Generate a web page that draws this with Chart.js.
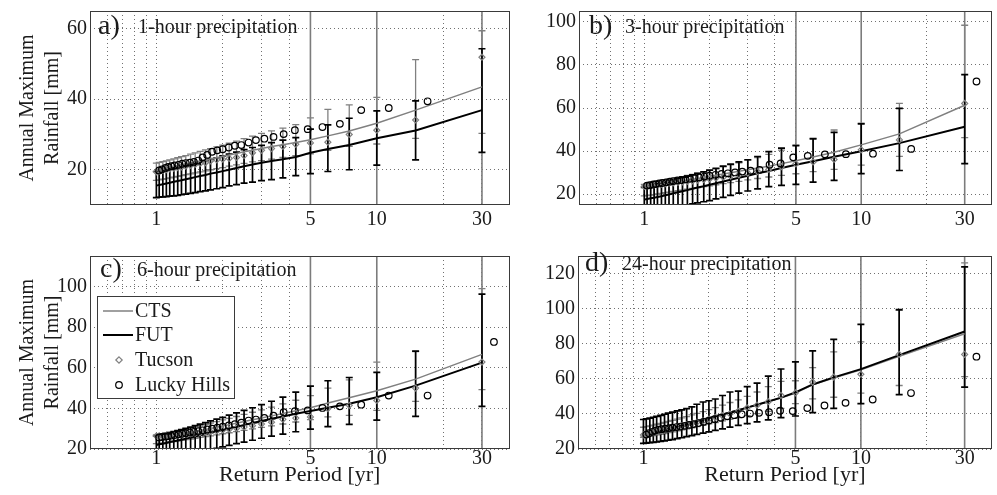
<!DOCTYPE html>
<html><head><meta charset="utf-8">
<script src="https://cdn.jsdelivr.net/npm/chart.js@4.4.0/dist/chart.umd.min.js"></script>
<style>
html,body{margin:0;padding:0;background:#fff;}
#wrap{position:relative;width:997px;height:495px;overflow:hidden;background:#fff;}
canvas{position:absolute;}
</style></head><body>
<div id="wrap">
<canvas id="ca" width="515" height="245" style="left:0;top:0;width:515px;height:245px"></canvas>
<canvas id="cb" width="482" height="245" style="left:515px;top:0;width:482px;height:245px"></canvas>
<canvas id="cc" width="515" height="250" style="left:0;top:245px;width:515px;height:250px"></canvas>
<canvas id="cd" width="482" height="250" style="left:515px;top:245px;width:482px;height:250px"></canvas>
</div>
<script>
// ---------- data ----------
const T_MODEL = [30, 15, 10, 7.5, 6, 5, 4.29, 3.75, 3.33, 3.0, 2.73, 2.5, 2.31, 2.14, 2.0, 1.88, 1.76, 1.67, 1.58, 1.5, 1.43, 1.36, 1.30, 1.25, 1.2, 1.15, 1.11, 1.07, 1.03, 1.0];
const T_LUCKY = [34, 17, 11.33, 8.5, 6.8, 5.67, 4.86, 4.25, 3.78, 3.4, 3.09, 2.83, 2.62, 2.43, 2.27, 2.13, 2.0, 1.89, 1.79, 1.7, 1.62, 1.55, 1.48, 1.42, 1.36, 1.31, 1.26, 1.21, 1.17, 1.13, 1.1, 1.06, 1.03];
const X_GRID = [0.6, 0.7, 0.8, 0.9, 1, 2, 3, 4, 5, 10, 20, 30];
const X_LABELS = [1, 5, 10, 30];
const X_REF = [5, 10, 30];
const Y_TICKS_A = [20, 40, 60];
const Y_TICKS_B = [20, 40, 60, 80, 100];
const Y_TICKS_C = [20, 40, 60, 80, 100];
const Y_TICKS_D = [20, 40, 60, 80, 100, 120];
const LEGEND_LABELS = ['CTS', 'FUT', 'Tucson', 'Lucky Hills'];

// panel a: 1-hour
const A_CTS = [43.5, 36.9, 33.2, 31.0, 29.6, 28.5, 27.7, 27.1, 26.6, 26.0, 25.5, 25.1, 24.6, 24.2, 23.8, 23.4, 23.1, 22.8, 22.5, 22.2, 21.9, 21.7, 21.4, 21.2, 21.0, 20.8, 20.6, 20.4, 20.2, 20.0];
const A_FUT = [36.9, 31.1, 28.9, 27.0, 25.9, 24.8, 23.6, 23.0, 22.5, 22.0, 21.5, 21.0, 20.5, 20.0, 19.6, 19.2, 18.9, 18.5, 18.2, 17.9, 17.6, 17.3, 17.0, 16.8, 16.6, 16.3, 16.1, 15.9, 15.7, 15.5];
const A_FUT_LO = [24.9, 22.8, 21.3, 20.0, 19.5, 18.9, 18.3, 17.7, 17.2, 16.9, 16.5, 16.2, 15.8, 15.4, 14.9, 14.6, 14.3, 14.0, 13.8, 13.5, 13.3, 13.1, 12.9, 12.7, 12.6, 12.5, 12.4, 12.3, 12.2, 12.1];
const A_FUT_HI = [54.3, 39.5, 36.7, 34.6, 32.7, 31.5, 29.1, 28.4, 27.7, 26.9, 26.3, 25.7, 25.0, 24.4, 23.9, 23.4, 23.0, 22.6, 22.2, 21.9, 21.5, 21.2, 20.9, 20.7, 20.5, 20.3, 20.1, 19.9, 19.7, 19.5];
const A_CTS_LO = [30.3, 28.9, 27.3, 26.6, 25.5, 24.5, 24.0, 23.5, 23.0, 22.6, 22.2, 21.8, 21.4, 21.0, 20.6, 20.3, 20.0, 19.7, 19.4, 19.1, 18.8, 18.6, 18.3, 18.1, 17.9, 17.7, 17.5, 17.3, 17.1, 17.0];
const A_CTS_HI = [59.4, 51.2, 40.5, 38.4, 37.1, 34.7, 32.8, 31.8, 31.0, 30.3, 29.5, 28.8, 28.1, 27.5, 27.0, 26.5, 26.0, 25.6, 25.2, 24.8, 24.4, 24.0, 23.7, 23.4, 23.1, 22.8, 22.5, 22.3, 22.1, 21.9];
const A_TUCSON = [51.9, 34.1, 31.2, 30.0, 27.8, 27.6, 27.2, 26.6, 26.0, 25.5, 24.8, 24.0, 23.5, 23.2, 23.0, 22.8, 22.5, 22.0, 21.8, 21.5, 21.2, 21.0, 20.8, 20.6, 20.4, 20.2, 20.0, 19.8, 19.6, 19.4];
const A_LUCKY = [null, 39.4, 37.5, 36.9, 33.0, 32.1, 31.5, 31.2, 30.1, 29.3, 28.8, 28.4, 27.7, 27.0, 26.8, 26.3, 25.8, 25.5, 25.1, 24.2, 23.5, 22.6, 22.2, 22.0, 21.9, 21.7, 21.4, 21.2, 21.0, 20.8, 20.5, 20.1, 19.8];

// panel b: 3-hour
const B_CTS = [61.3, 48.0, 42.9, 39.5, 37.3, 35.5, 34.2, 33.0, 32.2, 31.4, 30.7, 30.0, 29.4, 28.8, 28.3, 27.8, 27.3, 26.9, 26.5, 26.1, 25.7, 25.4, 25.0, 24.7, 24.4, 24.1, 23.8, 23.6, 23.4, 23.2];
const B_FUT = [51.3, 43.7, 39.9, 37.4, 35.3, 33.7, 32.2, 30.8, 29.7, 28.6, 27.6, 26.7, 25.9, 25.1, 24.4, 23.7, 23.1, 22.5, 21.9, 21.4, 20.9, 20.4, 19.9, 19.5, 19.1, 18.7, 18.4, 18.1, 17.8, 17.5];
const B_FUT_LO = [34.2, 31.0, 29.6, 26.4, 25.6, 24.6, 24.1, 23.5, 22.5, 21.5, 20.5, 19.5, 18.5, 17.8, 17.0, 16.5, 16.0, 15.5, 15.0, 14.5, 14.0, 13.5, 13.0, 12.5, 12.0, 11.5, 11.0, 10.5, 10.0, 9.5];
const B_FUT_HI = [75.5, 59.8, 52.6, 48.7, 45.7, 42.5, 41.4, 39.8, 37.5, 36.0, 35.0, 34.0, 33.0, 32.0, 31.2, 30.4, 29.7, 29.0, 28.4, 27.8, 27.2, 26.6, 26.1, 25.6, 25.2, 24.8, 24.4, 24.0, 23.6, 23.2];
const B_CTS_LO = [46.3, 37.6, 33.5, 31.5, 30.5, 29.5, 28.7, 28.0, 27.3, 26.7, 26.0, 25.4, 24.9, 24.4, 23.9, 23.5, 23.1, 22.7, 22.3, 21.9, 21.6, 21.3, 21.0, 20.7, 20.4, 20.1, 19.8, 19.6, 19.4, 19.2];
const B_CTS_HI = [98.4, 62.1, 53.0, 49.8, 46.0, 42.8, 40.5, 38.5, 37.0, 35.8, 34.6, 33.6, 32.7, 31.9, 31.1, 30.4, 29.8, 29.2, 28.7, 28.2, 27.7, 27.3, 26.9, 26.5, 26.1, 25.8, 25.5, 25.2, 24.9, 24.6];
const B_TUCSON = [62.1, 45.2, 40.6, 36.1, 35.0, 34.1, 32.8, 31.5, 30.5, 29.8, 29.0, 28.4, 27.9, 27.5, 27.1, 26.8, 26.5, 26.2, 25.9, 25.7, 25.5, 25.3, 25.1, 24.9, 24.7, 24.5, 24.3, 24.1, 23.9, 23.6];
const B_LUCKY = [72.3, 41.0, 38.8, 38.6, 38.5, 37.8, 37.1, 34.3, 33.7, 31.3, 30.9, 30.5, 30.1, 29.7, 29.4, 29.0, 28.6, 28.2, 27.8, 27.5, 27.2, 26.9, 26.6, 26.4, 26.1, 25.8, 25.5, 25.2, 25.0, 24.7, 24.5, 24.2, 24.0];

// panel c: 6-hour
const C_CTS = [66.6, 54.4, 48.7, 45.2, 42.6, 40.3, 38.8, 37.5, 36.3, 35.3, 34.4, 33.5, 32.7, 32.0, 31.3, 30.7, 30.1, 29.6, 29.1, 28.6, 28.2, 27.8, 27.4, 27.0, 26.7, 26.4, 26.1, 25.8, 25.5, 25.3];
const C_FUT = [62.5, 51.2, 45.5, 42.3, 40.3, 38.7, 37.3, 36.0, 34.9, 33.8, 32.8, 31.8, 30.9, 30.1, 29.3, 28.6, 27.9, 27.3, 26.7, 26.1, 25.6, 25.1, 24.6, 24.2, 23.8, 23.4, 23.0, 22.6, 22.3, 22.0];
const C_FUT_LO = [41.0, 36.1, 34.2, 32.1, 31.0, 29.8, 28.5, 27.3, 26.3, 25.3, 24.3, 23.4, 22.6, 21.8, 21.0, 20.3, 19.6, 18.9, 18.2, 17.6, 17.0, 16.4, 15.8, 15.3, 14.8, 14.3, 13.8, 13.4, 13.0, 12.6];
const C_FUT_HI = [96.2, 68.2, 57.7, 55.2, 53.6, 50.9, 48.0, 45.5, 43.5, 41.8, 40.3, 39.0, 37.8, 36.7, 35.6, 34.7, 33.8, 33.0, 32.2, 31.5, 30.8, 30.2, 29.6, 29.1, 28.6, 28.1, 27.6, 27.2, 26.8, 26.4];
const C_CTS_LO = [49.2, 43.4, 39.0, 36.6, 35.8, 34.5, 33.3, 32.3, 31.4, 30.6, 29.9, 29.2, 28.6, 28.0, 27.5, 27.0, 26.5, 26.1, 25.7, 25.3, 24.9, 24.6, 24.3, 24.0, 23.7, 23.4, 23.2, 23.0, 22.8, 22.6];
const C_CTS_HI = [98.9, 68.0, 62.8, 54.0, 50.0, 46.3, 44.0, 42.2, 40.6, 39.3, 38.1, 37.0, 36.0, 35.1, 34.3, 33.5, 32.8, 32.1, 31.5, 30.9, 30.4, 29.9, 29.4, 29.0, 28.6, 28.2, 27.9, 27.6, 27.3, 27.0];
const C_TUCSON = [62.8, 50.0, 43.9, 41.5, 39.9, 35.8, 35.2, 34.6, 33.2, 32.3, 31.5, 30.8, 30.2, 29.7, 29.3, 28.9, 28.6, 28.3, 28.0, 27.8, 27.6, 27.4, 27.2, 27.0, 26.9, 26.8, 26.7, 26.6, 26.5, 26.4];
const C_LUCKY = [72.7, 46.3, 46.3, 41.8, 41.0, 40.2, 39.0, 38.6, 38.1, 36.4, 35.3, 34.5, 34.0, 33.0, 32.2, 31.6, 31.0, 30.5, 30.0, 29.6, 29.2, 28.8, 28.4, 28.1, 27.8, 27.5, 27.2, 26.9, 26.6, 26.3, 26.1, 25.9, 25.7];

// panel d: 24-hour
const D_CTS = [85.7, 72.8, 65.1, 60.5, 56.6, 51.9, 49.1, 47.0, 45.2, 43.7, 42.3, 41.0, 39.9, 38.9, 38.0, 37.1, 36.3, 35.6, 34.9, 34.2, 33.6, 33.0, 32.4, 31.9, 31.4, 30.9, 30.4, 30.0, 29.5, 29.1];
const D_FUT = [87.0, 73.5, 65.5, 60.8, 56.8, 52.3, 49.3, 47.1, 45.2, 43.6, 42.1, 40.8, 39.6, 38.5, 37.5, 36.6, 35.7, 34.9, 34.1, 33.4, 32.7, 32.0, 31.3, 30.7, 30.1, 29.5, 29.0, 28.5, 28.0, 27.5];
const D_FUT_LO = [55.3, 51.0, 45.9, 43.1, 40.7, 38.8, 37.9, 36.6, 35.5, 34.5, 33.5, 32.5, 31.5, 30.6, 29.8, 29.0, 28.3, 27.6, 27.0, 26.4, 25.9, 25.4, 25.0, 24.6, 24.3, 24.0, 23.8, 23.6, 23.4, 23.2];
const D_FUT_HI = [123.8, 99.4, 91.0, 82.5, 75.9, 69.7, 65.6, 61.5, 57.5, 55.5, 53.0, 52.5, 50.5, 48.5, 47.5, 46.8, 45.5, 44.0, 43.0, 42.3, 41.7, 41.0, 40.4, 39.8, 39.2, 38.6, 38.1, 37.6, 37.2, 36.8];
const D_CTS_LO = [61.3, 56.2, 51.9, 49.5, 48.6, 45.9, 43.1, 41.5, 40.2, 39.0, 37.9, 36.9, 36.0, 35.1, 34.3, 33.5, 32.8, 32.1, 31.5, 30.9, 30.3, 29.8, 29.3, 28.8, 28.4, 28.0, 27.6, 27.3, 27.0, 26.7];
const D_CTS_HI = [126.1, 99.0, 81.0, 75.4, 66.4, 58.9, 58.5, 55.5, 52.5, 50.0, 48.0, 46.5, 45.0, 43.6, 42.4, 41.3, 40.3, 39.4, 38.5, 37.7, 37.0, 36.3, 35.7, 35.1, 34.6, 34.1, 33.6, 33.2, 32.8, 32.4];
const D_TUCSON = [73.9, 73.9, 62.6, 61.0, 58.1, 52.0, 50.6, 47.0, 45.0, 43.5, 41.5, 40.0, 39.0, 38.0, 37.0, 36.0, 35.2, 34.5, 33.8, 33.2, 32.6, 32.0, 31.4, 30.8, 30.3, 29.8, 29.3, 28.9, 28.5, 28.0];
const D_LUCKY = [72.6, 51.9, 48.2, 46.3, 44.8, 43.3, 41.6, 41.8, 41.0, 40.6, 40.2, 39.8, 39.3, 38.6, 37.8, 37.0, 36.2, 35.5, 34.8, 34.2, 33.7, 33.2, 32.8, 32.5, 32.2, 31.9, 31.6, 31.3, 31.0, 30.5, 29.8, 29.0, 28.2];

// ---------- styling / layout ----------
const FONT = "'Liberation Serif', 'Times New Roman', serif";
const GREY = '#808080';
const TXT = '#1a1a1a';

const PANELS = [
  {id:'ca', letter:'a)', title:'1-hour precipitation', ymin:10, ymax:65, yticks:Y_TICKS_A, yw:90, xh:40, padR:5.5, xpad:5, ytitle:true, xtitle:false,
   cts:A_CTS, fut:A_FUT, ctsLo:A_CTS_LO, ctsHi:A_CTS_HI, futLo:A_FUT_LO, futHi:A_FUT_HI, tuc:A_TUCSON, lucky:A_LUCKY,
   letterX:98, titleX:138, textY:27, legend:false},
  {id:'cb', letter:'b)', title:'3-hour precipitation', ymin:15, ymax:105, yticks:Y_TICKS_B, yw:64, xh:40, padR:4, xpad:5, ytitle:false, xtitle:false,
   cts:B_CTS, fut:B_FUT, ctsLo:B_CTS_LO, ctsHi:B_CTS_HI, futLo:B_FUT_LO, futHi:B_FUT_HI, tuc:B_TUCSON, lucky:B_LUCKY,
   letterX:74, titleX:110, textY:27, legend:false},
  {id:'cc', letter:'c)', title:'6-hour precipitation', ymin:20, ymax:115, yticks:Y_TICKS_C, yw:90, xh:46, padR:5.5, xpad:0, ytitle:true, xtitle:true,
   cts:C_CTS, fut:C_FUT, ctsLo:C_CTS_LO, ctsHi:C_CTS_HI, futLo:C_FUT_LO, futHi:C_FUT_HI, tuc:C_TUCSON, lucky:C_LUCKY,
   letterX:100, titleX:137, textY:25, legend:true},
  {id:'cd', letter:'d)', title:'24-hour precipitation', ymin:20, ymax:130, yticks:Y_TICKS_D, yw:63, xh:46, padR:4, xpad:0, ytitle:false, xtitle:true,
   cts:D_CTS, fut:D_FUT, ctsLo:D_CTS_LO, ctsHi:D_CTS_HI, futLo:D_FUT_LO, futHi:D_FUT_HI, tuc:D_TUCSON, lucky:D_LUCKY,
   letterX:70, titleX:107, textY:19, legend:false},
];
const DECO = {};

function pts(xs, ys) {
  return xs.map((x, i) => ({x: x, y: ys[i]})).filter(p => p.y !== null && p.y !== undefined);
}

const decoPlugin = {
  id: 'deco',
  beforeDatasetsDraw(chart) {
    const P = DECO[chart.canvas.id];
    const {ctx, chartArea: ca} = chart;
    const xs = chart.scales.x, ys = chart.scales.y;
    ctx.save();
    ctx.beginPath();
    ctx.rect(ca.left, ca.top, ca.right - ca.left, ca.bottom - ca.top);
    ctx.clip();
    // solid reference lines at 5, 10, 30 yr
    ctx.strokeStyle = '#7c7c7c';
    ctx.lineWidth = 1.6;
    for (const v of X_REF) {
      const px = xs.getPixelForValue(v);
      ctx.beginPath(); ctx.moveTo(px, ca.top); ctx.lineTo(px, ca.bottom); ctx.stroke();
    }
    // error bars: CTS grey first, FUT black on top
    const sets = [
      {lo: P.ctsLo, hi: P.ctsHi, color: GREY, width: 1.3, cap: 3.5},
      {lo: P.futLo, hi: P.futHi, color: '#000', width: 1.7, cap: 3.5}
    ];
    for (const s of sets) {
      ctx.strokeStyle = s.color; ctx.lineWidth = s.width;
      for (let i = 0; i < T_MODEL.length; i++) {
        const px = xs.getPixelForValue(T_MODEL[i]);
        const p1 = ys.getPixelForValue(s.lo[i]);
        const p2 = ys.getPixelForValue(s.hi[i]);
        ctx.beginPath();
        ctx.moveTo(px, p1); ctx.lineTo(px, p2);
        ctx.moveTo(px - s.cap, p1); ctx.lineTo(px + s.cap, p1);
        ctx.moveTo(px - s.cap, p2); ctx.lineTo(px + s.cap, p2);
        ctx.stroke();
      }
    }
    ctx.restore();
  },
  afterDraw(chart) {
    const P = DECO[chart.canvas.id];
    const {ctx, chartArea: ca} = chart;
    ctx.save();
    // axes box
    ctx.strokeStyle = '#3a3a3a';
    ctx.lineWidth = 1;
    ctx.strokeRect(Math.round(ca.left) + 0.5, Math.round(ca.top) + 0.5, Math.round(ca.right - ca.left) - 1, Math.round(ca.bottom - ca.top) - 1);
    // panel letter and title
    ctx.fillStyle = TXT;
    ctx.textBaseline = 'middle';
    ctx.textAlign = 'left';
    ctx.font = '28px ' + FONT;
    ctx.fillText(P.letter, P.letterX, P.textY);
    ctx.font = '20px ' + FONT;
    ctx.fillText(P.title, P.titleX, P.textY + 1);
    // legend
    if (P.legend) {
      const bx = 97, by = 51, bw = 137, bh = 102;
      ctx.fillStyle = '#fff';
      ctx.fillRect(bx, by, bw, bh);
      ctx.strokeStyle = '#3a3a3a';
      ctx.lineWidth = 1;
      ctx.strokeRect(bx + 0.5, by + 0.5, bw, bh);
      const rows = [66, 90, 115, 140];
      ctx.strokeStyle = GREY; ctx.lineWidth = 1.5;
      ctx.beginPath(); ctx.moveTo(103, rows[0]); ctx.lineTo(133, rows[0]); ctx.stroke();
      ctx.strokeStyle = '#000'; ctx.lineWidth = 2;
      ctx.beginPath(); ctx.moveTo(103, rows[1]); ctx.lineTo(133, rows[1]); ctx.stroke();
      ctx.strokeStyle = GREY; ctx.lineWidth = 1.2;
      ctx.beginPath();
      ctx.moveTo(119, rows[2] - 3.2); ctx.lineTo(122.2, rows[2]); ctx.lineTo(119, rows[2] + 3.2); ctx.lineTo(115.8, rows[2]); ctx.closePath();
      ctx.stroke();
      ctx.strokeStyle = '#000'; ctx.lineWidth = 1.2;
      ctx.beginPath(); ctx.arc(119, rows[3], 3.3, 0, Math.PI * 2); ctx.stroke();
      ctx.fillStyle = TXT;
      ctx.font = '20px ' + FONT;
      ctx.textBaseline = 'middle';
      for (let i = 0; i < 4; i++) ctx.fillText(LEGEND_LABELS[i], 135, rows[i] + 1);
    }
    ctx.restore();
  }
};

function makeChart(P) {
  DECO[P.id] = P;
  const tickFont = {family: FONT, size: 20, lineHeight: 1.0};
  const yTickFont = {family: FONT, size: 20, lineHeight: 0.8};
  const yTitleFont = {family: FONT, size: 20, lineHeight: 1.25};
  const xTitleFont = {family: FONT, size: 22, lineHeight: 1.25};
  return new Chart(document.getElementById(P.id), {
    type: 'scatter',
    data: {datasets: [
      {label: 'CTS', data: pts(T_MODEL, P.cts), showLine: true, borderColor: GREY, borderWidth: 1.5, pointRadius: 0, tension: 0, order: 3},
      {label: 'FUT', data: pts(T_MODEL, P.fut), showLine: true, borderColor: '#000', borderWidth: 2, pointRadius: 0, tension: 0, order: 2},
      {label: 'Tucson', data: pts(T_MODEL, P.tuc), showLine: false, pointStyle: 'rectRot', pointRadius: 3, pointBorderColor: GREY, pointBackgroundColor: 'rgba(0,0,0,0)', pointBorderWidth: 1.2, order: 1},
      {label: 'Lucky Hills', data: pts(T_LUCKY, P.lucky), showLine: false, pointStyle: 'circle', pointRadius: 3.3, pointBorderColor: '#000', pointBackgroundColor: 'rgba(0,0,0,0)', pointBorderWidth: 1.2, order: 0}
    ]},
    options: {
      responsive: false, animation: false, devicePixelRatio: 1,
      layout: {padding: {top: 9, right: P.padR, left: 0, bottom: 0}},
      plugins: {legend: {display: false}, tooltip: {enabled: false}},
      scales: {
        x: {
          type: 'logarithmic', min: 0.5, max: 40, bounds: 'data',
          afterBuildTicks: s => { s.ticks = X_GRID.map(v => ({value: v})); },
          afterFit: s => { s.height = P.xh; },
          ticks: {autoSkip: false, maxRotation: 0, minRotation: 0, padding: P.xpad, font: tickFont, color: TXT,
                  callback: v => X_LABELS.includes(v) ? String(v) : ''},
          grid: {color: '#707070', lineWidth: 1, drawTicks: false},
          border: {display: false, dash: [1, 3]},
          title: {display: P.xtitle, text: 'Return Period [yr]', font: xTitleFont, color: TXT, padding: {top: 0, bottom: 6}}
        },
        y: {
          type: 'linear', min: P.ymin, max: P.ymax,
          afterBuildTicks: s => { s.ticks = P.yticks.map(v => ({value: v})); },
          afterFit: s => { s.width = P.yw; },
          ticks: {padding: 3, font: yTickFont, color: TXT, callback: v => String(v)},
          grid: {color: '#707070', lineWidth: 1, drawTicks: false},
          border: {display: false, dash: [1, 3]},
          title: {display: P.ytitle, text: ['Annual Maximum', 'Rainfall [mm]'], font: yTitleFont, color: TXT, padding: {top: 15.5, bottom: 0}}
        }
      }
    },
    plugins: [decoPlugin]
  });
}

PANELS.forEach(makeChart);
</script>
</body></html>
